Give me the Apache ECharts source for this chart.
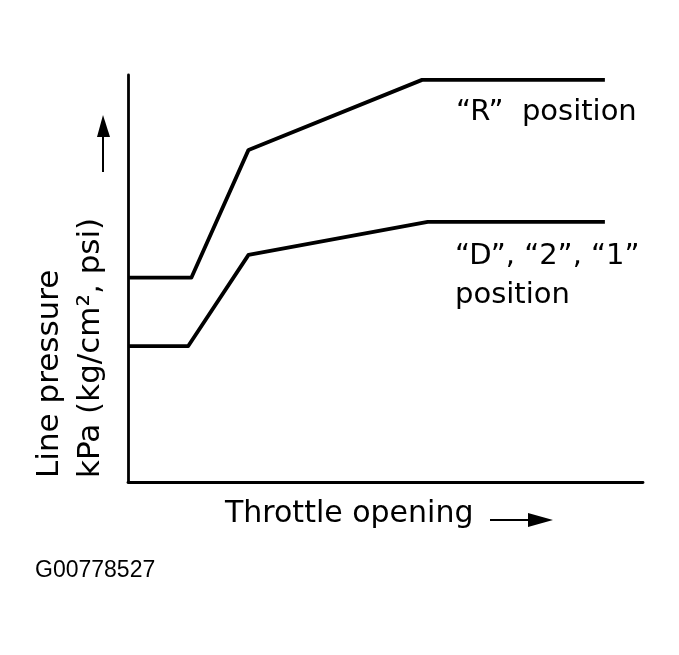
<!DOCTYPE html>
<html>
<head>
<meta charset="utf-8">
<script src="https://cdn.jsdelivr.net/npm/echarts@6/dist/echarts.min.js"></script>
<style>
html,body{margin:0;padding:0;background:#fff;}
#chart{width:679px;height:655px;}
</style>
</head>
<body>
<div id="chart"></div>
<script>
// Throttle opening (0-100 %, schematic) and line pressure (0-100, schematic)
const rThrottle = [0, 12.3, 23.4, 57.1, 92.6];
const rPressure = [50.2, 50.2, 81.6, 98.8, 98.8];
const dThrottle = [0, 11.7, 23.4, 58.2, 92.6];
const dPressure = [33.4, 33.4, 55.8, 63.9, 63.9];

const seriesNames = ['"R" position', '"D", "2", "1" position'];
const xAxisTitle = 'Throttle opening';
const yAxisTitle1 = 'Line pressure';
const yAxisTitle2 = 'kPa (kg/cm², psi)';
const figureCode = 'G00778527';

const pairs = (xs, ys) => xs.map((x, i) => [x, ys[i]]);

const chart = echarts.init(document.getElementById('chart'), null, {renderer: 'canvas'});
const FONT = '"DejaVu Sans", "Liberation Sans", Arial, sans-serif';
const FONT2 = '"Liberation Sans", Arial, Helvetica, sans-serif';

chart.setOption({
  backgroundColor: '#ffffff',
  animation: false,
  grid: {left: 128, right: 36, top: 75, bottom: 173, containLabel: false},
  xAxis: {
    type: 'value', min: 0, max: 100,
    axisLine: {show: true, lineStyle: {color: '#000', width: 2.8}},
    axisTick: {show: false}, axisLabel: {show: false}, splitLine: {show: false}
  },
  yAxis: {
    type: 'value', min: 0, max: 100,
    axisLine: {show: true, lineStyle: {color: '#000', width: 2.8}},
    axisTick: {show: false}, axisLabel: {show: false}, splitLine: {show: false}
  },
  series: [
    {
      name: seriesNames[0], type: 'line', data: pairs(rThrottle, rPressure),
      symbol: 'none', lineStyle: {color: '#000', width: 3.8, join: 'round'}
    },
    {
      name: seriesNames[1], type: 'line', data: pairs(dThrottle, dPressure),
      symbol: 'none', lineStyle: {color: '#000', width: 3.8, join: 'round'}
    }
  ],
  graphic: [
    {type: 'text', x: 456, y: 112, style: {text: '“R”  position', font: '29px ' + FONT, fill: '#000', textAlign: 'left', textVerticalAlign: 'middle'}},
    {type: 'text', x: 455, y: 256, style: {text: '“D”, “2”, “1”', font: '29px ' + FONT, fill: '#000', textAlign: 'left', textVerticalAlign: 'middle'}},
    {type: 'text', x: 455, y: 295, style: {text: 'position', font: '29px ' + FONT, fill: '#000', textAlign: 'left', textVerticalAlign: 'middle'}},
    {type: 'text', x: 225, y: 514, style: {text: xAxisTitle, font: '30px ' + FONT, fill: '#000', textAlign: 'left', textVerticalAlign: 'middle'}},
    {type: 'line', shape: {x1: 490, y1: 520, x2: 530, y2: 520}, style: {stroke: '#000', lineWidth: 2}},
    {type: 'polygon', shape: {points: [[528, 513], [553, 520], [528, 527]]}, style: {fill: '#000'}},
    {type: 'text', x: 50, y: 478, rotation: Math.PI / 2, style: {text: yAxisTitle1, font: '31px ' + FONT, fill: '#000', textAlign: 'left', textVerticalAlign: 'middle'}},
    {type: 'text', x: 91, y: 478, rotation: Math.PI / 2, style: {text: yAxisTitle2, font: '31px ' + FONT, fill: '#000', textAlign: 'left', textVerticalAlign: 'middle'}},
    {type: 'line', shape: {x1: 103, y1: 172, x2: 103, y2: 134}, style: {stroke: '#000', lineWidth: 2}},
    {type: 'polygon', shape: {points: [[97, 137], [103, 115], [110, 137]]}, style: {fill: '#000'}},
    {type: 'text', x: 35, y: 571, style: {text: figureCode, font: '23px ' + FONT2, fill: '#000', textAlign: 'left', textVerticalAlign: 'middle'}}
  ]
});
</script>
</body>
</html>
